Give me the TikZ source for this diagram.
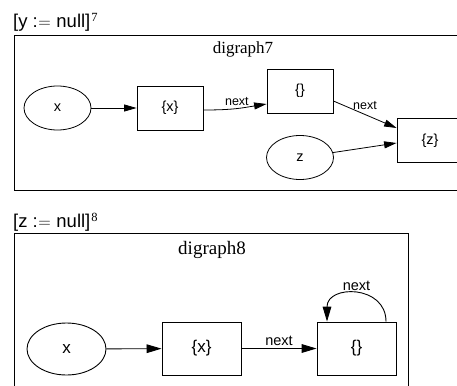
\documentclass[tikz,border=0pt]{standalone}
\usepackage{fontspec}
\setmainfont{Liberation Sans}
\newfontfamily\titlefont{Liberation Serif}
\usetikzlibrary{shapes.geometric,arrows.meta,calc}
\newcommand{\supnum}[1]{\raisebox{6pt}{\titlefont\fontsize{12.5}{12.5}\selectfont #1}}
\begin{document}
\begin{tikzpicture}[x=1pt,y=-1pt,
  frame/.style={draw, line width=0.9pt},
  heading/.style={anchor=base west, inner sep=0pt, font=\fontsize{18.5}{20}\selectfont},
  boxA/.style={draw, line width=0.8pt, minimum width=66pt, minimum height=44pt, inner sep=0pt, font=\fontsize{14.5}{16}\selectfont},
  ellA/.style={ellipse, draw, line width=0.8pt, minimum width=67pt, minimum height=44pt, inner sep=0pt, font=\fontsize{14.5}{16}\selectfont},
  boxB/.style={draw, line width=0.9pt, minimum width=79pt, minimum height=53pt, inner sep=0pt, font=\fontsize{17}{18}\selectfont},
  ellB/.style={ellipse, draw, line width=0.9pt, minimum width=79pt, minimum height=52pt, inner sep=0pt, font=\fontsize{17}{18}\selectfont},
  edgeA/.style={draw, line width=0.8pt, -{Triangle[length=12.5pt,width=7pt]}},
  edgeB/.style={draw, line width=0.9pt, -{Triangle[length=15pt,width=8.7pt]}},
  lblA/.style={font=\fontsize{12.5}{14}\selectfont, inner sep=1.5pt},
  lblB/.style={font=\fontsize{14.5}{16}\selectfont, inner sep=1.5pt}
]
\clip (0,0) rectangle (457,385);
\useasboundingbox (0,0) rectangle (457,385);
\fill[white] (0,0) rectangle (457,385);

% ---------- first graph ----------
\node[heading] (h1) at (13,27.5) {[y :\kern0.5pt$=$\kern0.5pt\ null]\kern1pt\supnum{7}};
\draw[frame] (14,35) rectangle (472,190);
\node[font=\titlefont\fontsize{17}{19}\selectfont, inner sep=0pt] (t1) at (243,49) {digraph7};

\node[ellA] (x1) at (57.5,108) {x};
\node[boxA] (sx1) at (170,108) {\{x\}};
\node[boxA] (se1) at (300,91) {\{\}};
\node[boxA] (sz1) at (430,140.5) {\{z\}};
\node[ellA] (z1) at (300,157.5) {z};

\draw[edgeA] (x1) -- (sx1);
\coordinate (a1) at ($(sx1.east)+(0,2)$);
\coordinate (b1) at ($(se1.west)+(0,13)$);
\draw[edgeA] (a1) .. controls ($(a1)+(30,0)$) and ($(b1)+(-25,4)$) .. (b1)
  node[lblA, midway, above, yshift=1pt] {next};
\coordinate (c1) at ($(se1.east)+(0,10)$);
\coordinate (d1) at ($(sz1.west)+(0,-12.5)$);
\draw[edgeA] (c1) -- (d1) node[lblA, midway, above, yshift=3pt] {next};
\draw[edgeA] (z1) -- ($(sz1.west)+(0,2.5)$);

% ---------- second graph ----------
\node[heading] (h2) at (13,227) {[z :\kern0.5pt$=$\kern0.5pt\ null]\kern1pt\supnum{8}};
\draw[frame] (14,233) rectangle (408,420);
\node[font=\titlefont\fontsize{19}{21}\selectfont, inner sep=0pt] (t2) at (212,250) {digraph8};

\node[ellB] (x2) at (66.5,349) {x};
\node[boxB] (sx2) at (201.5,348.5) {\{x\}};
\node[boxB] (se2) at (356.5,348.5) {\{\}};

\draw[edgeB] (x2) -- (sx2);
\draw[edgeB] (sx2) -- (se2) node[lblB, midway, above, yshift=1pt] {next};
\coordinate (p2) at ($(se2.north)+(29.5,0)$);
\coordinate (q2) at ($(se2.north)+(-29.5,0)$);
\draw[edgeB] (p2) .. controls ($(p2)+(0,-37)$) and ($(q2)+(0,-37)$) .. (q2)
  node[lblB, pos=0.5, above, yshift=1pt] {next};
\end{tikzpicture}
\end{document}
